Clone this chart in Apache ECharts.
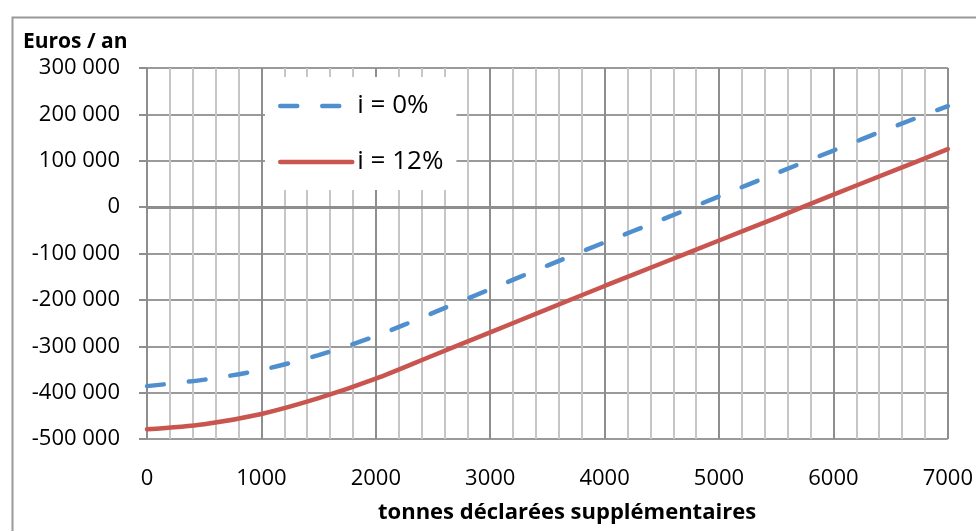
<!DOCTYPE html>
<html>
<head>
<meta charset="utf-8">
<script src="https://cdn.jsdelivr.net/npm/echarts@6/dist/echarts.min.js"></script>
<style>
  html, body { margin: 0; padding: 0; background: #fff; }
  #chart { width: 976px; height: 531px; }
</style>
</head>
<body>
<div id="chart"></div>
<script>
// Tonnage steps (x) and yearly balance in euros for both interest rates
const tonnes = [0, 500, 1000, 1500, 2000, 2500, 3000, 3500, 4000, 4500, 5000, 5500, 6000, 6500, 7000];
const rate0 = [-386000, -372000, -351000, -319000, -278000, -228000, -177000, -126000, -76000, -27000, 23000, 73000, 122000, 171000, 218000];
const rate12 = [-479000, -468000, -446000, -412000, -370000, -320000, -270000, -220000, -170000, -121000, -72000, -23000, 27000, 76000, 125000];
const seriesNames = ['i = 0%', 'i = 12%'];
const yTitle = 'Euros / an';
const xTitle = 'tonnes déclarées supplémentaires';

const FONT = '"Open Sans", "Noto Sans", sans-serif';
const GRID_DARK = '#8e8e8e';
const GRID_LIGHT = '#c6c6c6';
const BLUE = '#4F8FCD';
const RED = '#C9554F';
const DASH = [17, 25];

function fmtEuros(v) {
  const s = Math.abs(v).toString().replace(/\B(?=(\d{3})+(?!\d))/g, ' ');
  return (v < 0 ? '-' : '') + s;
}

const chart = echarts.init(document.getElementById('chart'), null, { renderer: 'canvas' });

chart.setOption({
  backgroundColor: '#fff',
  animation: false,
  textStyle: { fontFamily: FONT },
  title: [
    { text: yTitle, left: 18, top: 27, textStyle: { fontFamily: FONT, fontSize: 21, fontWeight: 'bold', color: '#000' } },
    { text: xTitle, left: 373, top: 497, textStyle: { fontFamily: FONT, fontSize: 22, fontWeight: 'bold', color: '#000' } }
  ],
  graphic: [
    { type: 'rect', left: 10, top: 15, shape: { width: 1000, height: 600 }, style: { fill: 'none', stroke: '#999', lineWidth: 2 }, z: -1 }
  ],
  legend: {
    orient: 'vertical',
    left: 265,
    top: 77,
    backgroundColor: '#fff',
    padding: [15, 13, 14, 13],
    itemGap: 28,
    itemWidth: 72,
    itemHeight: 14,
    itemStyle: { opacity: 0 },
    data: [
      { name: seriesNames[0], lineStyle: { color: BLUE, width: 4.5, type: DASH, cap: 'round' } },
      { name: seriesNames[1], lineStyle: { color: RED, width: 4.5, cap: 'round' } }
    ],
    textStyle: { fontFamily: FONT, fontSize: 26, lineHeight: 28, color: '#000' }
  },
  grid: { left: 147, right: 28, top: 68, bottom: 92, containLabel: false },
  xAxis: [
    {
      type: 'value', min: 0, max: 7000, interval: 1000,
      axisLine: { show: false, onZero: false },
      axisTick: { show: false },
      axisLabel: { fontFamily: FONT, fontSize: 22, color: '#000', margin: 29, formatter: v => String(v) },
      splitLine: { show: true, lineStyle: { color: GRID_DARK, width: 2 } },
      minorTick: { show: false, splitNumber: 5 },
      minorSplitLine: { show: true, lineStyle: { color: GRID_LIGHT, width: 2 } }
    },
    {
      // zero baseline across the plot
      type: 'value', min: 0, max: 7000, interval: 1000,
      axisLine: { show: true, onZero: true, lineStyle: { color: GRID_DARK, width: 3 } },
      axisTick: { show: false },
      axisLabel: { show: false },
      splitLine: { show: false }
    }
  ],
  yAxis: {
    type: 'value', min: -500000, max: 300000, interval: 100000,
    axisLine: { show: true, lineStyle: { color: GRID_DARK, width: 2 } },
    axisTick: { show: true, length: 8, lineStyle: { color: GRID_DARK, width: 2 } },
    axisLabel: { fontFamily: FONT, fontSize: 22, color: '#000', margin: 27, formatter: fmtEuros },
    splitLine: { show: true, lineStyle: { color: '#9a9a9a', width: 2 } }
  },
  series: [
    {
      name: seriesNames[0], type: 'line', xAxisIndex: 0, symbol: 'none', smooth: 0.3,
      data: tonnes.map((t, i) => [t, rate0[i]]),
      lineStyle: { color: BLUE, width: 4.5, type: DASH, cap: 'round' },
      itemStyle: { color: BLUE }
    },
    {
      name: seriesNames[1], type: 'line', xAxisIndex: 0, symbol: 'none', smooth: 0.3,
      data: tonnes.map((t, i) => [t, rate12[i]]),
      lineStyle: { color: RED, width: 4.5, cap: 'round' },
      itemStyle: { color: RED }
    }
  ]
});
</script>
</body>
</html>
